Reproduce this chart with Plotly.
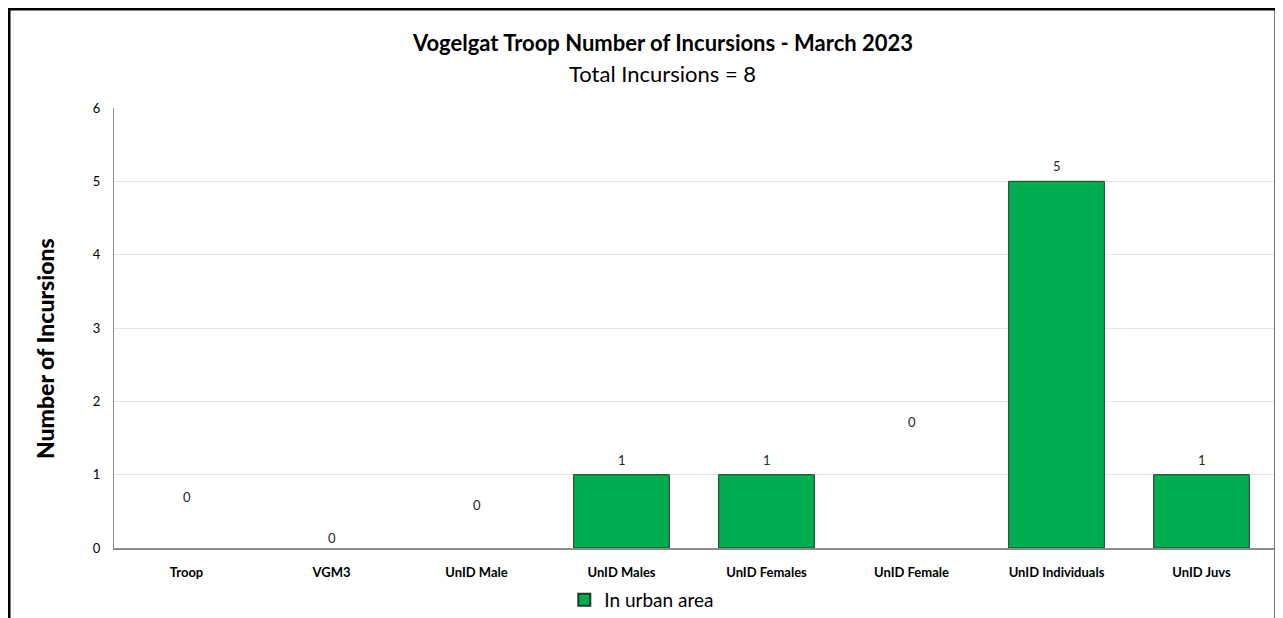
import plotly.graph_objects as go

categories = ["Troop", "VGM3", "UnID Male", "UnID Males", "UnID Females",
              "UnID Female", "UnID Individuals", "UnID Juvs"]
incursions = [0, 0, 0, 1, 1, 0, 5, 1]
series_name = "In urban area"
title_text = "Vogelgat Troop Number of Incursions - March 2023"
subtitle_text = "Total Incursions = 8"
y_title = "Number of Incursions"
y_ticks = [0, 1, 2, 3, 4, 5, 6]

# label heights as drawn in the original (zero labels float oddly)
label_y = [0.70, 0.14, 0.59, 1.0, 1.0, 1.72, 5.0, 1.0]
label_shift = [0, 0, 0, 15, 15, 0, 15, 15]

FONT = "Lato"
GREEN = "#00ad4e"

fig = go.Figure()
fig.add_trace(go.Bar(
    x=categories, y=incursions, name=series_name,
    marker=dict(color=GREEN,
                line=dict(color="#1f3b26",
                          width=[1 if v > 0 else 0 for v in incursions])),
    showlegend=True,
))

annotations = []
for c, v, ly, sh in zip(categories, incursions, label_y, label_shift):
    annotations.append(dict(x=c, y=ly, xref="x", yref="y", text=str(v),
                            showarrow=False, yshift=sh, yanchor="middle",
                            font=dict(family=FONT, size=13, color="#262626")))
annotations.append(dict(x=0.473, y=1.148, xref="paper", yref="paper",
                        text=title_text, showarrow=False, yanchor="middle",
                        font=dict(family=FONT, size=22, color="#000000", weight="bold")))
annotations.append(dict(x=0.473, y=1.0795, xref="paper", yref="paper",
                        text=subtitle_text, showarrow=False, yanchor="middle",
                        font=dict(family=FONT, size=22, color="#000000")))
annotations.append(dict(x=-0.0595, y=0.4545, xref="paper", yref="paper",
                        text=y_title, showarrow=False, textangle=-90,
                        xanchor="center", yanchor="middle",
                        font=dict(family=FONT, size=23, color="#000000", weight=900)))

fig.update_layout(
    width=1283, height=618,
    margin=dict(l=106, r=17, t=100, b=78, autoexpand=False),
    paper_bgcolor="white", plot_bgcolor="white",
    bargap=0.34,
    font=dict(family=FONT, color="#000000"),
    annotations=annotations,
    legend=dict(orientation="h", x=0.455, xanchor="center", y=-0.118, yanchor="middle",
                font=dict(family=FONT, size=19, color="#000000"),
                itemsizing="constant"),
    shapes=[dict(type="rect", xref="paper", yref="paper",
                 x0=-0.0905, x1=1.0017, y0=-0.3, y1=1.225,
                 line=dict(color="black", width=3), fillcolor="rgba(0,0,0,0)",
                 layer="below")],
    xaxis=dict(showline=True, linecolor="#8c8c8c", linewidth=1.5,
               tickfont=dict(family=FONT, size=13, color="#000000", weight="bold"),
               ticks="", showgrid=False, ticklabelstandoff=12),
    yaxis=dict(range=[0, 6], tickvals=y_ticks, showline=True, linecolor="#8c8c8c",
               linewidth=1, gridcolor="#e3e3e3", gridwidth=1, zeroline=False,
               ticks="", ticklabelstandoff=10,
               tickfont=dict(family=FONT, size=13, color="#000000")),
)

fig.write_html("out.html")
